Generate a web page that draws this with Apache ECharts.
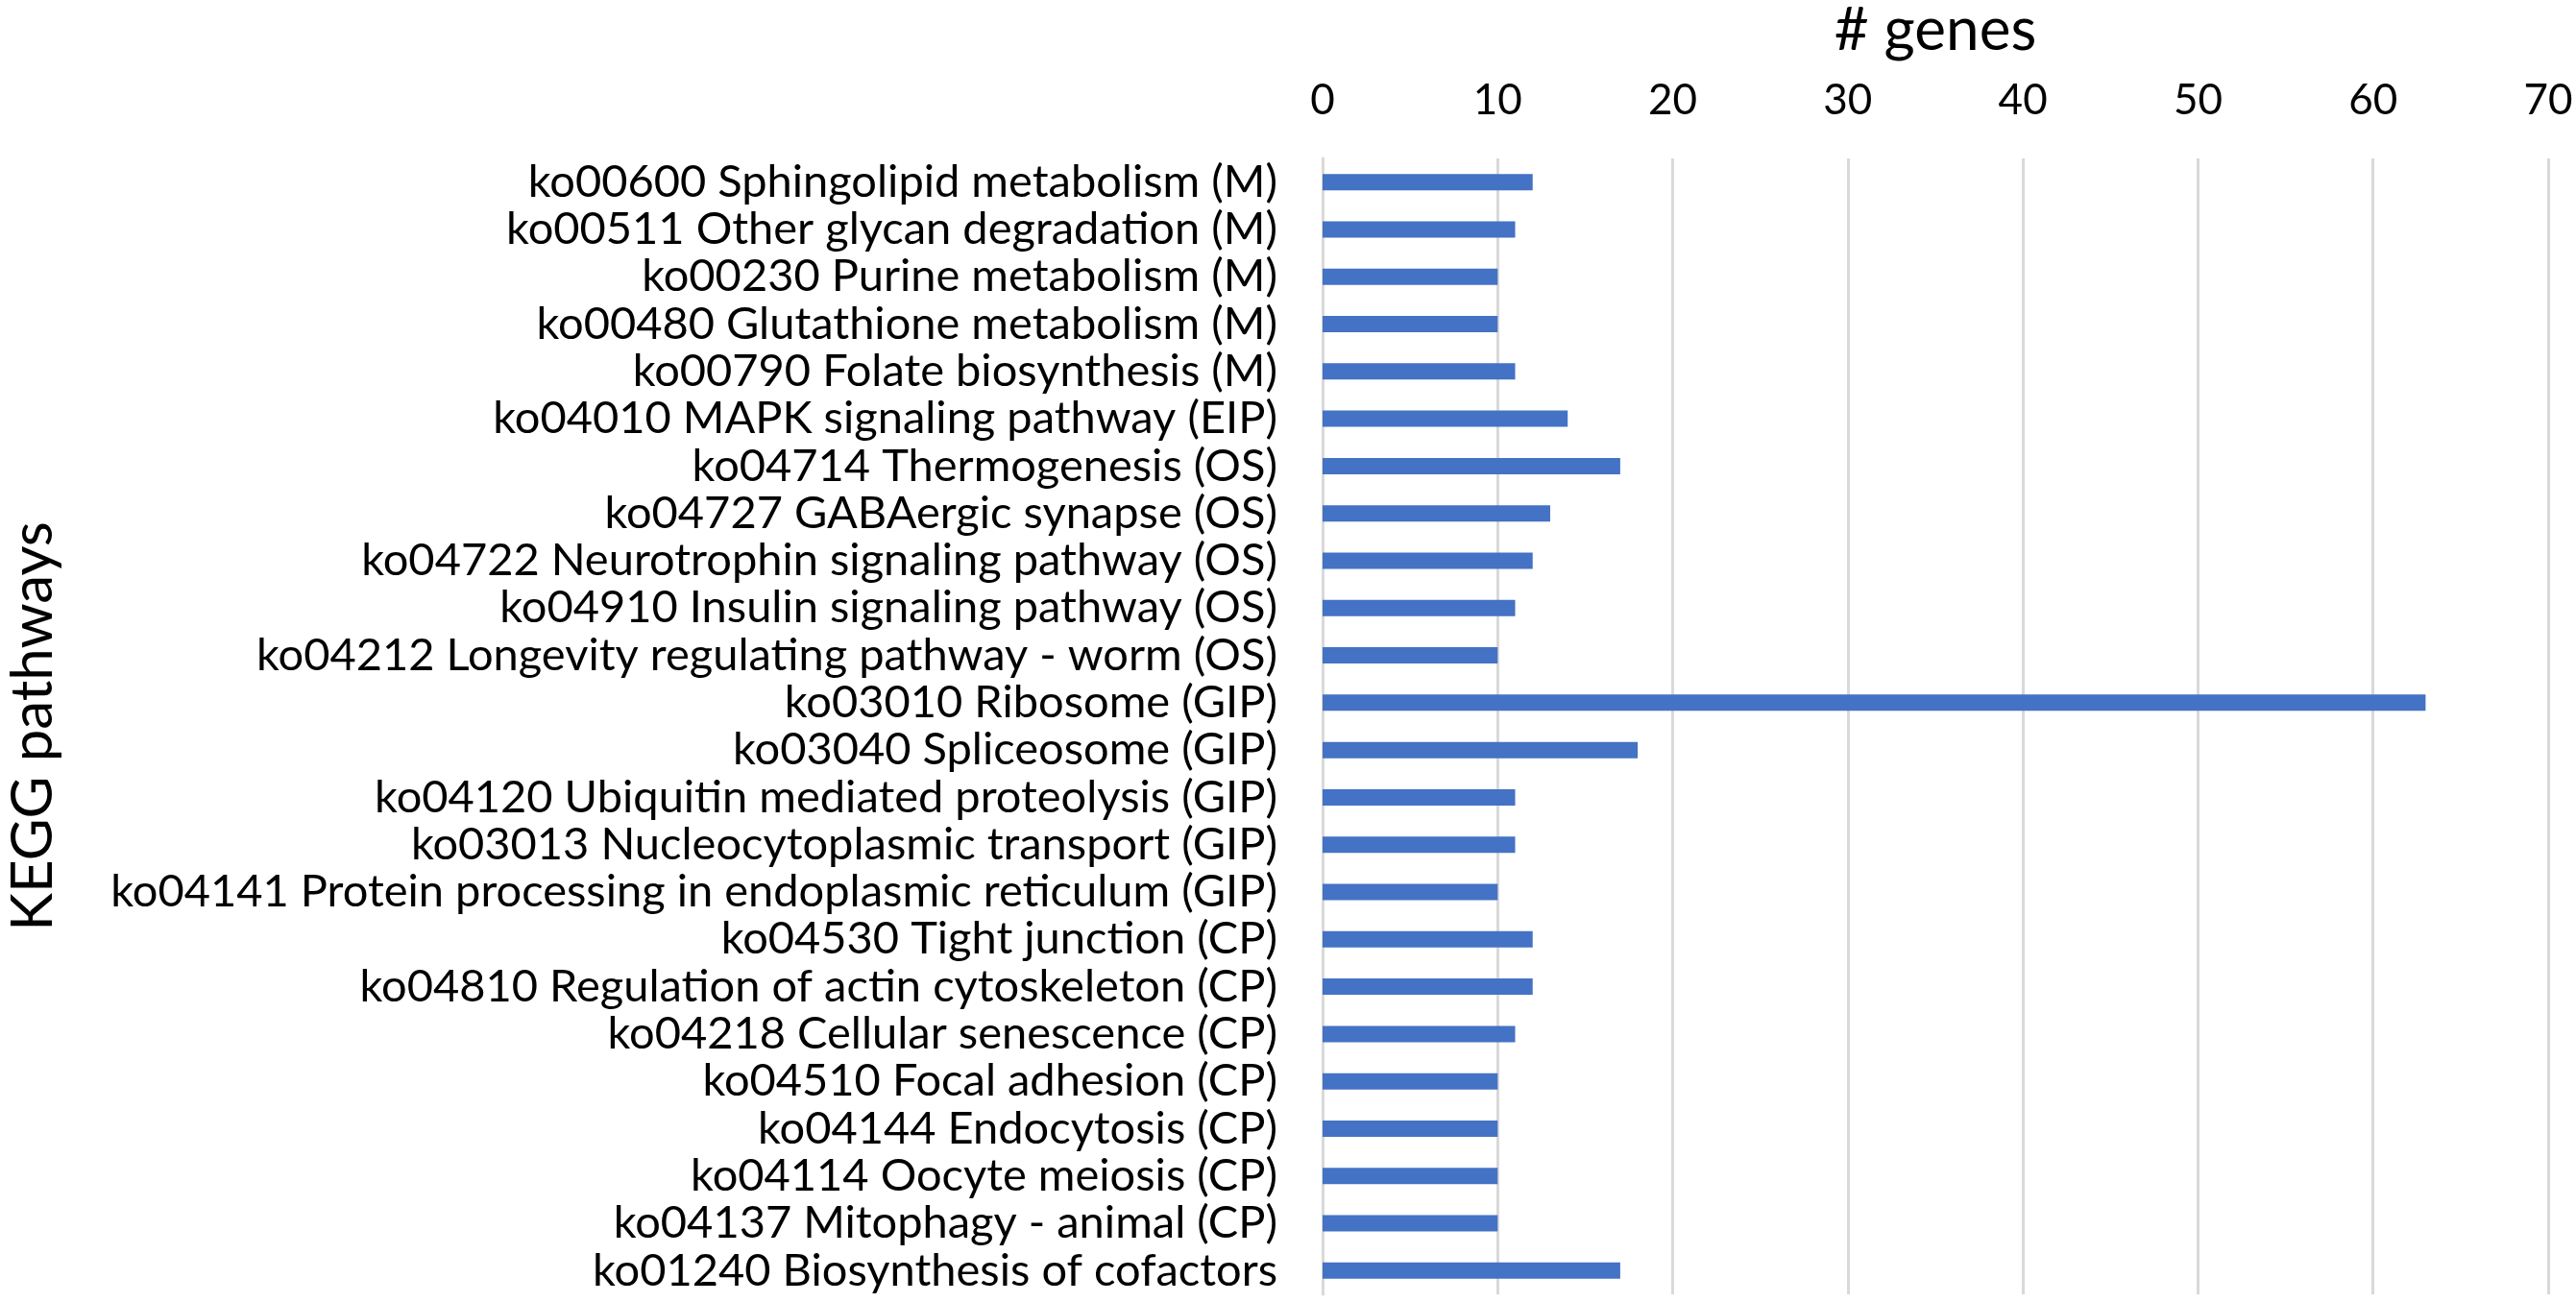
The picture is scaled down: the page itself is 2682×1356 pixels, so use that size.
<!DOCTYPE html>
<html>
<head>
<meta charset="utf-8">
<title>KEGG pathways</title>
<script src="https://cdn.jsdelivr.net/npm/echarts@6/dist/echarts.min.js"></script>
<style>
    html, body { margin: 0; padding: 0; background: #fff; }
    #chart { width: 2682px; height: 1356px; }
</style>
</head>
<body>
<div id="chart"></div>
<script>
    // pathways, top to bottom
    const pathways = [
        'ko00600 Sphingolipid metabolism (M)',
        'ko00511 Other glycan degradation (M)',
        'ko00230 Purine metabolism (M)',
        'ko00480 Glutathione metabolism (M)',
        'ko00790 Folate biosynthesis (M)',
        'ko04010 MAPK signaling pathway (EIP)',
        'ko04714 Thermogenesis (OS)',
        'ko04727 GABAergic synapse (OS)',
        'ko04722 Neurotrophin signaling pathway (OS)',
        'ko04910 Insulin signaling pathway (OS)',
        'ko04212 Longevity regulating pathway - worm (OS)',
        'ko03010 Ribosome (GIP)',
        'ko03040 Spliceosome (GIP)',
        'ko04120 Ubiquitin mediated proteolysis (GIP)',
        'ko03013 Nucleocytoplasmic transport (GIP)',
        'ko04141 Protein processing in endoplasmic reticulum (GIP)',
        'ko04530 Tight junction (CP)',
        'ko04810 Regulation of actin cytoskeleton (CP)',
        'ko04218 Cellular senescence (CP)',
        'ko04510 Focal adhesion (CP)',
        'ko04144 Endocytosis (CP)',
        'ko04114 Oocyte meiosis (CP)',
        'ko04137 Mitophagy - animal (CP)',
        'ko01240 Biosynthesis of cofactors'
    ];
    const geneCounts = [12, 11, 10, 10, 11, 14, 17, 13, 12, 11, 10, 63, 18, 11, 11, 10, 12, 12, 11, 10, 10, 10, 10, 17];

    const xMin = 0, xMax = 70, xStep = 10;

    const font = 'Lato, "Liberation Sans", sans-serif';

    const chart = echarts.init(document.getElementById('chart'));
    chart.setOption({
        animation: false,
        textStyle: { fontFamily: font, color: '#000' },
        grid: {
            left: 1377,
            right: 29,
            top: 165,
            bottom: 8,
            containLabel: false,
            outerBoundsMode: 'none'
        },
        xAxis: {
            type: 'value',
            position: 'top',
            min: xMin,
            max: xMax,
            interval: xStep,
            name: '# genes',
            nameLocation: 'middle',
            nameGap: 102,
            nameTextStyle: { fontSize: 62, color: '#000', fontFamily: font },
            axisLine: { show: false },
            axisTick: { show: false },
            axisLabel: { fontSize: 44, color: '#000', margin: 38, fontFamily: font },
            splitLine: { show: true, lineStyle: { color: '#d9d9d9', width: 3 } }
        },
        yAxis: {
            type: 'category',
            data: pathways,
            inverse: true,
            name: 'KEGG pathways',
            nameLocation: 'middle',
            nameRotate: 90,
            nameGap: 1312,
            nameTextStyle: { fontSize: 60, color: '#000', fontFamily: font },
            axisLine: { show: true, lineStyle: { color: '#d9d9d9', width: 3 } },
            axisTick: { show: false },
            axisLabel: { interval: 0, fontSize: 47, color: '#000', margin: 47, fontFamily: font },
            splitLine: { show: false }
        },
        series: [
            {
                name: '# genes',
                type: 'bar',
                data: geneCounts,
                barWidth: 17,
                itemStyle: { color: '#4472c4' }
            }
        ]
    });
</script>
</body>
</html>
